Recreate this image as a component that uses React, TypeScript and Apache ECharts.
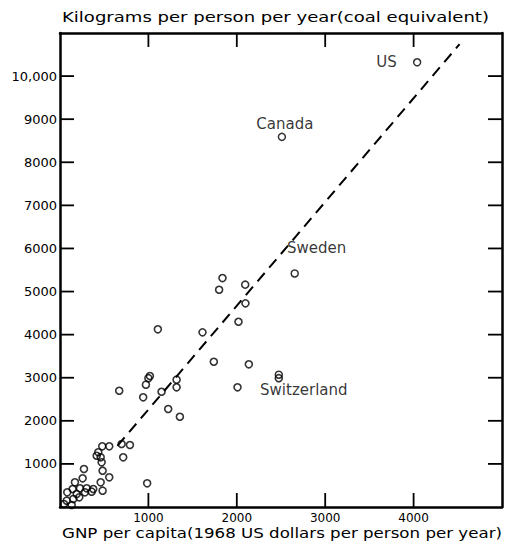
import React, { useEffect, useRef } from "react";
import * as echarts from "echarts";

// Labelled countries
const countryNames = ["US", "Canada", "Sweden", "Switzerland"];
const countryGnp = [4040, 2510, 2655, 2475];
const countryEnergy = [10320, 8590, 5420, 3070];

// Other countries (GNP per capita, energy per capita)
const otherGnp = [
  2095, 1838, 1800, 2098, 2019, 1107, 1612, 1740, 2136, 2475, 2008, 1017, 1000,
  972, 941, 1149, 1319, 1319, 1224, 1356, 670, 986,
  478, 557, 697, 791, 715, 433, 460, 471, 415, 271, 482, 256, 169, 557, 460,
  143, 226, 302, 376, 482, 82, 189, 282, 358, 76, 150, 218, 45, 132,
];
const otherEnergy = [
  5160, 5313, 5042, 4726, 4299, 4123, 4053, 3371, 3311, 2990, 2777, 3040, 2990,
  2838, 2545, 2675, 2954, 2777, 2274, 2095, 2698, 550,
  1408, 1408, 1462, 1439, 1153, 1269, 1153, 1037, 1190, 882, 842, 666, 573, 689, 573,
  418, 434, 434, 418, 378, 341, 302, 341, 355, 146, 186, 225, 70, 46,
];

// Dashed trend line end points
const trendGnp = [650, 4520];
const trendEnergy = [1420, 10740];

// Tick values
const xTickValues = [1000, 2000, 3000, 4000];
const yTickValues = [1000, 2000, 3000, 4000, 5000, 6000, 7000, 8000, 9000, 10000];
const X_MAX = 5000;
const Y_MAX = 11000;

const xTitle = "GNP per capita(1968 US dollars per person per year)";
const yTitle = "Kilograms per person per year(coal equivalent)";

const FONT = "DejaVu Sans";
const TICK_LEN = 14;

const labelStyles: Record<string, any> = {
  US: { position: "left", distance: 16 },
  Canada: { position: "top", distance: 1, offset: [3, 0] },
  Sweden: { position: "top", distance: 4, offset: [22, -10] },
  Switzerland: { position: "bottom", distance: 4, offset: [25, 0] },
};

export default function App() {
  const ref = useRef<HTMLDivElement>(null);
  useEffect(() => {
    if (!ref.current) return;
    const chart = echarts.init(ref.current, null, { renderer: "svg" });
    const mkLine = () => ({ show: true, onZero: false, lineStyle: { color: "#000", width: 2.5 } });
    const xFmt = (v: number) => (v === 0 || v === X_MAX ? "" : String(v));
    const yFmt = (v: number) =>
      v === 0 || v === Y_MAX ? "" : v === 10000 ? "10,000" : String(v);
    const tickLine = (x1: number, y1: number, x2: number, y2: number) => ({
      type: "line",
      z2: 100,
      shape: { x1, y1, x2, y2 },
      style: { stroke: "#000", lineWidth: 1.8 },
    });
    chart.setOption({
      animation: false,
      grid: { left: 60, right: 5, top: 33, bottom: 41, outerBoundsMode: "none" },
      xAxis: [
        {
          type: "value", min: 0, max: X_MAX, interval: 1000, position: "bottom", z: 10,
          axisLine: mkLine(), axisTick: { show: false }, splitLine: { show: false },
          axisLabel: { formatter: xFmt, fontSize: 12, margin: 5, color: "#000", fontFamily: FONT },
        },
        {
          type: "value", min: 0, max: X_MAX, interval: 1000, position: "top", z: 10,
          axisLine: mkLine(), axisTick: { show: false }, splitLine: { show: false },
          axisLabel: { show: false },
        },
      ],
      yAxis: [
        {
          type: "value", min: 0, max: Y_MAX, interval: 1000, position: "left", z: 10,
          axisLine: mkLine(), axisTick: { show: false }, splitLine: { show: false },
          axisLabel: { formatter: yFmt, fontSize: 13, margin: 3, color: "#000", fontFamily: FONT },
        },
        {
          type: "value", min: 0, max: Y_MAX, interval: 1000, position: "right", z: 10,
          axisLine: mkLine(), axisTick: { show: false }, splitLine: { show: false },
          axisLabel: { show: false },
        },
      ],
      series: [
        {
          type: "line",
          z: 3,
          data: trendGnp.map((g, i) => [g, trendEnergy[i]]),
          showSymbol: false,
          symbol: "none",
          lineStyle: { color: "#000", width: 2, type: [11, 7] },
          silent: true,
        },
        {
          type: "scatter",
          z: 4,
          data: otherGnp.map((g, i) => [g, otherEnergy[i]]),
          symbol: "circle",
          symbolSize: 7,
          itemStyle: { color: "rgba(0,0,0,0)", borderColor: "#000", borderWidth: 1.6 },
        },
        {
          type: "scatter",
          z: 4,
          data: countryNames.map((n, i) => ({
            name: n,
            value: [countryGnp[i], countryEnergy[i]],
            label: { show: true, ...labelStyles[n] },
          })),
          symbol: "circle",
          symbolSize: 7,
          itemStyle: { color: "rgba(0,0,0,0)", borderColor: "#000", borderWidth: 1.5 },
          label: { formatter: "{b}", fontSize: 15, color: "#000", fontFamily: FONT },
        },
        {
          type: "custom",
          z: 50,
          silent: true,
          clip: false,
          data: xTickValues.map((v) => [v, 0]),
          encode: { x: 0, y: 1 },
          renderItem: (_p: any, api: any) => {
            const v = api.value(0);
            const b = api.coord([v, 0]);
            const t = api.coord([v, Y_MAX]);
            return {
              type: "group",
              children: [
                tickLine(b[0], b[1], b[0], b[1] - TICK_LEN),
                tickLine(t[0], t[1], t[0], t[1] + TICK_LEN),
              ],
            };
          },
        },
        {
          type: "custom",
          z: 50,
          silent: true,
          clip: false,
          data: yTickValues.map((v) => [0, v]),
          encode: { x: 0, y: 1 },
          renderItem: (_p: any, api: any) => {
            const v = api.value(1);
            const l = api.coord([0, v]);
            const r = api.coord([X_MAX, v]);
            return {
              type: "group",
              children: [
                tickLine(l[0], l[1], l[0] + TICK_LEN, l[1]),
                tickLine(r[0], r[1], r[0] - TICK_LEN, r[1]),
              ],
            };
          },
        },
      ],
      graphic: [
        {
          type: "text", x: 62, y: 17, scaleX: 1.29,
          style: {
            text: yTitle, fontSize: 14, fontFamily: FONT, fill: "#000",
            textAlign: "left", textVerticalAlign: "middle", align: "left", verticalAlign: "middle",
          },
        },
        {
          type: "text", x: 62, y: 533, scaleX: 1.19,
          style: {
            text: xTitle, fontSize: 14, fontFamily: FONT, fill: "#000",
            textAlign: "left", textVerticalAlign: "middle", align: "left", verticalAlign: "middle",
          },
        },
      ],
    });
    return () => chart.dispose();
  }, []);
  return (
    <div
      ref={ref}
      style={{ position: "fixed", left: 0, top: 0, width: 507, height: 548, background: "#fff" }}
    />
  );
}
